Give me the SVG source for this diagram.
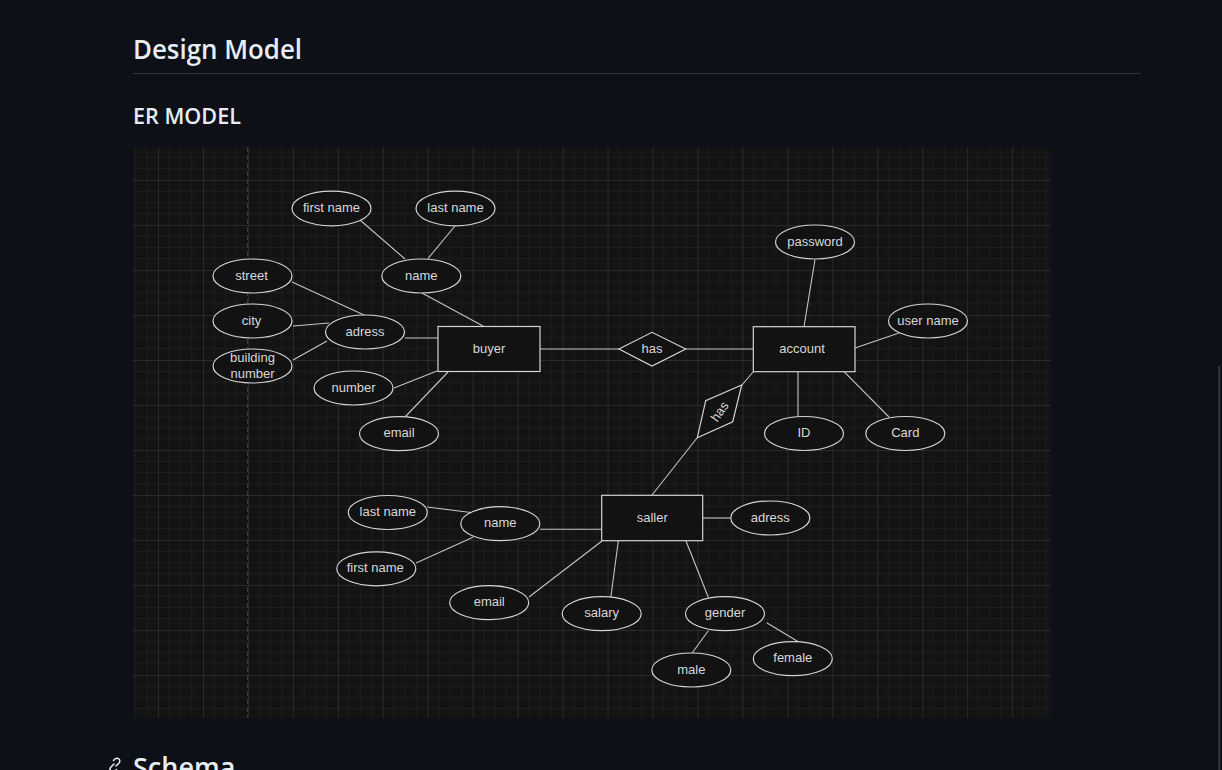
<svg xmlns="http://www.w3.org/2000/svg" width="1222" height="770" viewBox="0 0 1222 770">
<style>
.bgpage{fill:#0d1117}
.h{font-family:"Open Sans","Noto Sans","Liberation Sans",sans-serif;font-weight:600;fill:#e6edf3}
.node ellipse,.node rect,.node polygon{fill:#121212;stroke:#d4d4d4;stroke-width:1.2}
.lbl{font-family:"Liberation Sans",Arial,sans-serif;font-size:13px;fill:#d8d8d8;text-anchor:middle}
#connectors line{stroke:#c4c4c4;stroke-width:1.1}
</style>
<defs>
<pattern id="grid" patternUnits="userSpaceOnUse" x="203" y="180" width="44.95" height="45">
<rect width="44.95" height="45" fill="#131313"/>
<path d="M11.24 0V45M22.47 0V45M33.71 0V45M0 11.25H44.95M0 22.5H44.95M0 33.75H44.95" stroke="#1c1c1c" stroke-width="1"/>
<path d="M0.5 0V45M0 0.5H44.95" stroke="#2a2a2a" stroke-width="1"/>
</pattern>
</defs>
<rect class="bgpage" x="0" y="0" width="1222" height="770"/>
<text class="h" x="133" y="59" font-size="27" textLength="169" lengthAdjust="spacingAndGlyphs">Design Model</text>
<line x1="133" y1="73.5" x2="1141" y2="73.5" stroke="#30363d" stroke-width="1"/>
<text class="h" x="133" y="124" font-size="22" textLength="108" lengthAdjust="spacingAndGlyphs">ER MODEL</text>
<rect x="133" y="147" width="918" height="571" fill="url(#grid)"/>
<line x1="247.5" y1="147" x2="247.5" y2="718" stroke="#3c3c3c" stroke-width="1" stroke-dasharray="5 3"/>
<g id="connectors">
<line x1="360" y1="220" x2="405" y2="259"/>
<line x1="455" y1="226" x2="428" y2="258.5"/>
<line x1="422" y1="293" x2="483" y2="326"/>
<line x1="292" y1="282" x2="364" y2="315"/>
<line x1="293" y1="326" x2="329" y2="323"/>
<line x1="293" y1="360" x2="327" y2="341"/>
<line x1="405" y1="338" x2="438" y2="338"/>
<line x1="394" y1="388" x2="437" y2="371"/>
<line x1="405" y1="417" x2="448" y2="372"/>
<line x1="540" y1="349" x2="619" y2="349"/>
<line x1="686" y1="349" x2="753" y2="349"/>
<line x1="815" y1="259.5" x2="804" y2="326.7"/>
<line x1="855" y1="348" x2="899" y2="333"/>
<line x1="798" y1="371.7" x2="798" y2="416.7"/>
<line x1="844" y1="371.7" x2="889" y2="417"/>
<line x1="753" y1="372" x2="742" y2="385"/>
<line x1="697" y1="438" x2="652" y2="495"/>
<line x1="427" y1="507" x2="473" y2="512.7"/>
<line x1="416" y1="563" x2="473" y2="537.3"/>
<line x1="540" y1="529.3" x2="602" y2="529.3"/>
<line x1="529" y1="597" x2="602" y2="541"/>
<line x1="610.7" y1="598.3" x2="618.3" y2="541"/>
<line x1="686" y1="541" x2="708.3" y2="597.3"/>
<line x1="703" y1="518" x2="730.7" y2="518"/>
<line x1="708.3" y1="630.7" x2="692.3" y2="652.7"/>
<line x1="766.7" y1="622.7" x2="798.3" y2="641.7"/>
</g>
<g id="buyer-first-name" class="node"><ellipse cx="331.5" cy="208.5" rx="39.5" ry="17.3"/><text class="lbl" x="331.5" y="212">first name</text></g>
<g id="buyer-last-name" class="node"><ellipse cx="455.5" cy="208.5" rx="39.5" ry="17.3"/><text class="lbl" x="455.5" y="212">last name</text></g>
<g id="buyer-name" class="node"><ellipse cx="421.3" cy="276" rx="39.5" ry="17"/><text class="lbl" x="421.3" y="279.5">name</text></g>
<g id="street" class="node"><ellipse cx="252.5" cy="276" rx="39.5" ry="17"/><text class="lbl" x="251.5" y="279.5">street</text></g>
<g id="city" class="node"><ellipse cx="252.5" cy="321" rx="39.5" ry="17"/><text class="lbl" x="251.5" y="324.5">city</text></g>
<g id="buyer-adress" class="node"><ellipse cx="365" cy="332" rx="39.5" ry="17"/><text class="lbl" x="365" y="335.5">adress</text></g>
<g id="building-number" class="node"><ellipse cx="252.5" cy="366" rx="39.5" ry="17"/><text class="lbl" x="252.5" y="361.5">building</text><text class="lbl" x="252.5" y="378">number</text></g>
<g id="number" class="node"><ellipse cx="353.5" cy="388" rx="39.5" ry="17"/><text class="lbl" x="353.5" y="391.5">number</text></g>
<g id="buyer-email" class="node"><ellipse cx="399" cy="433.7" rx="39.5" ry="17"/><text class="lbl" x="399" y="437.2">email</text></g>
<g id="buyer" class="node"><rect x="438" y="326.5" width="102" height="45"/><text class="lbl" x="489" y="352.5">buyer</text></g>
<g id="has-1" class="node"><polygon points="619,349 652,332.3 685.7,349 652,366"/><text class="lbl" x="652" y="352.5">has</text></g>
<g id="account" class="node"><rect x="753.3" y="326.7" width="101.7" height="45"/><text class="lbl" x="802" y="352.5">account</text></g>
<g id="password" class="node"><ellipse cx="815" cy="242" rx="39.5" ry="17"/><text class="lbl" x="815" y="245.5">password</text></g>
<g id="user-name" class="node"><ellipse cx="928" cy="321" rx="39.5" ry="17"/><text class="lbl" x="928" y="324.5">user name</text></g>
<g id="id" class="node"><ellipse cx="804" cy="433.5" rx="39.5" ry="17"/><text class="lbl" x="804" y="437">ID</text></g>
<g id="card" class="node"><ellipse cx="905.3" cy="433.5" rx="39.5" ry="17"/><text class="lbl" x="905.3" y="437">Card</text></g>
<g id="has-2" class="node"><polygon points="741.7,385 732.7,421.7 697.3,437.7 705.7,400.7"/><text class="lbl" transform="translate(719.5,411.5) rotate(-55)" x="0" y="4.5">has</text></g>
<g id="saller" class="node"><rect x="601.7" y="495.3" width="101" height="45.4"/><text class="lbl" x="652.2" y="521.5">saller</text></g>
<g id="saller-adress" class="node"><ellipse cx="770.3" cy="518" rx="39.5" ry="17"/><text class="lbl" x="770.3" y="521.5">adress</text></g>
<g id="saller-last-name" class="node"><ellipse cx="387.8" cy="512.5" rx="39.5" ry="17"/><text class="lbl" x="387.8" y="516">last name</text></g>
<g id="saller-name" class="node"><ellipse cx="500.3" cy="523.7" rx="39.5" ry="17"/><text class="lbl" x="500.3" y="527.2">name</text></g>
<g id="saller-first-name" class="node"><ellipse cx="376.3" cy="568.8" rx="39.5" ry="17"/><text class="lbl" x="375.3" y="572.3">first name</text></g>
<g id="saller-email" class="node"><ellipse cx="489.2" cy="602.7" rx="39.5" ry="17"/><text class="lbl" x="489.2" y="606.2">email</text></g>
<g id="salary" class="node"><ellipse cx="601.7" cy="613.7" rx="39.5" ry="17"/><text class="lbl" x="601.7" y="617.2">salary</text></g>
<g id="gender" class="node"><ellipse cx="725" cy="613.7" rx="39.5" ry="17"/><text class="lbl" x="725" y="617.2">gender</text></g>
<g id="male" class="node"><ellipse cx="691.3" cy="670" rx="39.5" ry="17"/><text class="lbl" x="691.3" y="673.5">male</text></g>
<g id="female" class="node"><ellipse cx="792.8" cy="658.7" rx="39.5" ry="17"/><text class="lbl" x="792.8" y="662.2">female</text></g>
<g fill="none" stroke="#e6edf3" stroke-width="1.5" stroke-linecap="round">
<path d="M114 764 l-3 3 a2.8 2.8 0 0 0 4 4 l1.5 -1.5"/>
<path d="M116 766 l3 -3 a2.8 2.8 0 0 0 -4 -4 l-1.5 1.5"/>
</g>
<text class="h" x="133" y="777" font-size="27">Schema</text>
<rect x="1218.5" y="366" width="1.5" height="404" fill="#3a3f46"/>
</svg>
